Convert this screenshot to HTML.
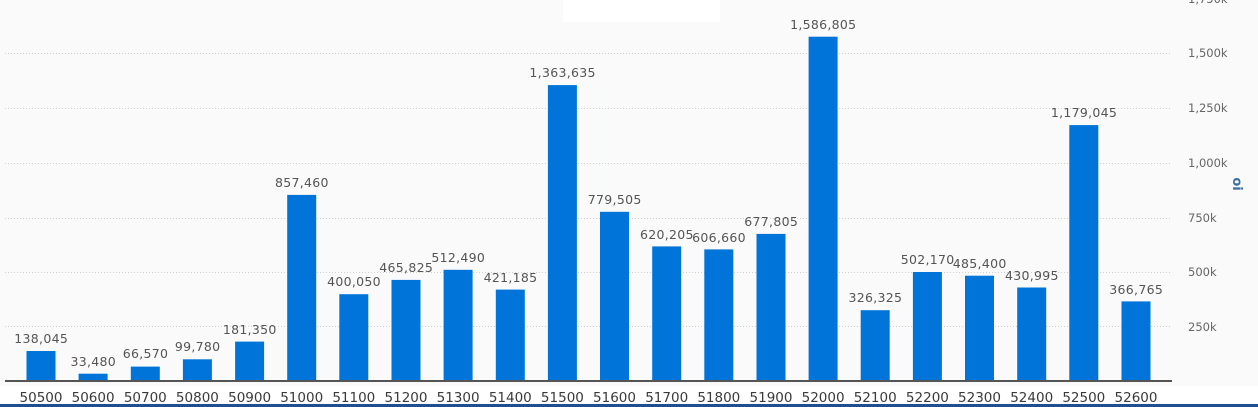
<!DOCTYPE html><html><head><meta charset="utf-8"><style>body{margin:0;background:#fafafa}svg{display:block}text{font-family:"DejaVu Sans","Liberation Sans",sans-serif}</style></head><body>
<svg width="1258" height="407" xmlns="http://www.w3.org/2000/svg">
<rect width="1258" height="407" fill="#fafafa"/>
<rect x="563" y="0" width="157" height="22" fill="#fff"/>
<rect x="0" y="386" width="1258" height="21" fill="#fff"/>
<rect x="0" y="404" width="1258" height="3" fill="#1f4f8f"/>
<g stroke="#d0d0d0" stroke-dasharray="1,2" stroke-width="1">
<line x1="5" x2="1172" y1="326.5" y2="326.5"/><line x1="5" x2="1172" y1="272.5" y2="272.5"/><line x1="5" x2="1172" y1="218.5" y2="218.5"/><line x1="5" x2="1172" y1="163.5" y2="163.5"/><line x1="5" x2="1172" y1="108.5" y2="108.5"/><line x1="5" x2="1172" y1="53.5" y2="53.5"/>
</g>
<g font-size="11.5" fill="#666">
<text x="1188" y="331">250k</text><text x="1188" y="276">500k</text><text x="1188" y="222">750k</text><text x="1188" y="167">1,000k</text><text x="1188" y="112">1,250k</text><text x="1188" y="57">1,500k</text><text x="1188" y="3">1,750k</text>
</g>
<text transform="translate(1233,184) rotate(90)" font-size="13" font-weight="bold" fill="#3a6ea5" text-anchor="middle">oi</text>
<g fill="#0074d9">
<rect x="26.5" y="351" width="29" height="30"/><rect x="78.6" y="373.7" width="29" height="7.3"/><rect x="130.8" y="366.6" width="29" height="14.4"/><rect x="182.9" y="359.3" width="29" height="21.7"/><rect x="235.1" y="341.6" width="29" height="39.4"/><rect x="287.2" y="194.9" width="29" height="186.1"/><rect x="339.3" y="294.2" width="29" height="86.8"/><rect x="391.5" y="279.9" width="29" height="101.1"/><rect x="443.6" y="269.8" width="29" height="111.2"/><rect x="495.8" y="289.6" width="29" height="91.4"/><rect x="547.9" y="85.1" width="29" height="295.9"/><rect x="600" y="211.8" width="29" height="169.2"/><rect x="652.2" y="246.4" width="29" height="134.6"/><rect x="704.3" y="249.4" width="29" height="131.6"/><rect x="756.5" y="233.9" width="29" height="147.1"/><rect x="808.6" y="36.7" width="29" height="344.3"/><rect x="860.7" y="310.2" width="29" height="70.8"/><rect x="912.9" y="272" width="29" height="109"/><rect x="965" y="275.7" width="29" height="105.3"/><rect x="1017.2" y="287.5" width="29" height="93.5"/><rect x="1069.3" y="125.1" width="29" height="255.9"/><rect x="1121.5" y="301.4" width="29" height="79.6"/>
</g>
<line x1="5" x2="1172" y1="381" y2="381" stroke="#555" stroke-width="2"/>
<g font-size="12.5" fill="#555" text-anchor="middle" letter-spacing="0.3" transform="translate(0.2,0)">
<text x="41" y="343">138,045</text><text x="93.1" y="366">33,480</text><text x="145.3" y="358">66,570</text><text x="197.4" y="351">99,780</text><text x="249.6" y="334">181,350</text><text x="301.7" y="187">857,460</text><text x="353.8" y="286">400,050</text><text x="406" y="272">465,825</text><text x="458.1" y="262">512,490</text><text x="510.3" y="282">421,185</text><text x="562.4" y="77">1,363,635</text><text x="614.5" y="204">779,505</text><text x="666.7" y="239">620,205</text><text x="718.8" y="242">606,660</text><text x="771" y="226">677,805</text><text x="823.1" y="29">1,586,805</text><text x="875.2" y="302">326,325</text><text x="927.4" y="264">502,170</text><text x="979.5" y="268">485,400</text><text x="1031.7" y="280">430,995</text><text x="1083.8" y="117">1,179,045</text><text x="1136" y="294">366,765</text>
</g>
<g font-size="13.5" fill="#3a3a3a" text-anchor="middle">
<text x="41" y="402">50500</text><text x="93.1" y="402">50600</text><text x="145.3" y="402">50700</text><text x="197.4" y="402">50800</text><text x="249.6" y="402">50900</text><text x="301.7" y="402">51000</text><text x="353.8" y="402">51100</text><text x="406" y="402">51200</text><text x="458.1" y="402">51300</text><text x="510.3" y="402">51400</text><text x="562.4" y="402">51500</text><text x="614.5" y="402">51600</text><text x="666.7" y="402">51700</text><text x="718.8" y="402">51800</text><text x="771" y="402">51900</text><text x="823.1" y="402">52000</text><text x="875.2" y="402">52100</text><text x="927.4" y="402">52200</text><text x="979.5" y="402">52300</text><text x="1031.7" y="402">52400</text><text x="1083.8" y="402">52500</text><text x="1136" y="402">52600</text>
</g>
</svg></body></html>
